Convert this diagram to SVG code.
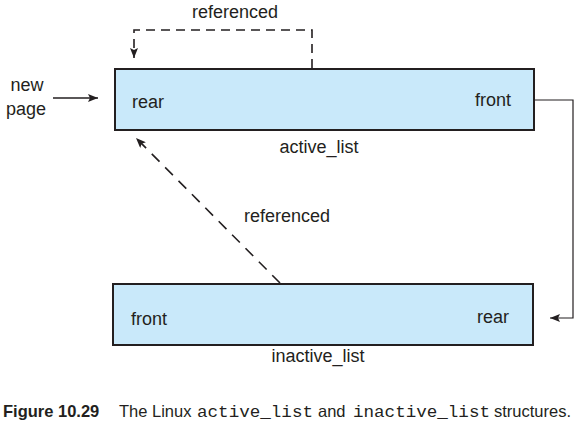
<svg xmlns="http://www.w3.org/2000/svg" width="584" height="421" viewBox="0 0 584 421">
<style>
text{font-family:"Liberation Sans",Arial,sans-serif;font-size:18px;fill:#231f20}
.box{fill:#c9e9fa;stroke:#231f20;stroke-width:2}
.ln{fill:none;stroke:#231f20;stroke-width:1.6}
.thin{fill:none;stroke:#231f20;stroke-width:1.2}
.dash{stroke-dasharray:9 6}
.mono{font-family:"Liberation Mono","Courier New",monospace}
.cap{font-size:16.5px}
</style>
<defs>
<marker id="ah" viewBox="0 0 10 8" refX="10" refY="4" markerWidth="10" markerHeight="8" markerUnits="userSpaceOnUse" orient="auto">
<path d="M0,0 L10,4 L0,8 L2,4 Z" fill="#231f20"/>
</marker>
</defs>
<g id="connectors">
<path class="ln" d="M53,98 H98" marker-end="url(#ah)"/>
<path class="ln dash" d="M312,68 V30 H134 V58" marker-end="url(#ah)"/>
<path class="ln" d="M280,283 L136,138" stroke-dasharray="11 8" marker-end="url(#ah)"/>
<path class="thin" d="M535,100 H573 V318 H550" marker-end="url(#ah)"/>
<text x="235" y="18" text-anchor="middle">referenced</text>
<text x="287" y="222" text-anchor="middle">referenced</text>
</g>
<g id="newpage">
<text x="27" y="91" text-anchor="middle">new</text>
<text x="26" y="115" text-anchor="middle">page</text>
</g>
<g id="active_list">
<rect class="box" x="115" y="69" width="419" height="61"/>
<text x="132" y="108">rear</text>
<text x="511" y="106" text-anchor="end">front</text>
<text x="319" y="153" text-anchor="middle">active_list</text>
</g>
<g id="inactive_list">
<rect class="box" x="113" y="284" width="420" height="61"/>
<text x="131" y="325">front</text>
<text x="509" y="323" text-anchor="end">rear</text>
<text x="318" y="362" text-anchor="middle">inactive_list</text>
</g>
<g id="caption">
<text class="cap" x="3" y="417" font-weight="bold">Figure 10.29</text>
<text class="cap" x="119" y="417">The Linux</text>
<text class="cap mono" x="197" y="417" textLength="116" lengthAdjust="spacingAndGlyphs">active_list</text>
<text class="cap" x="318" y="417">and</text>
<text class="cap mono" x="353" y="417" textLength="137" lengthAdjust="spacingAndGlyphs">inactive_list</text>
<text class="cap" x="494" y="417">structures.</text>
</g>
</svg>
